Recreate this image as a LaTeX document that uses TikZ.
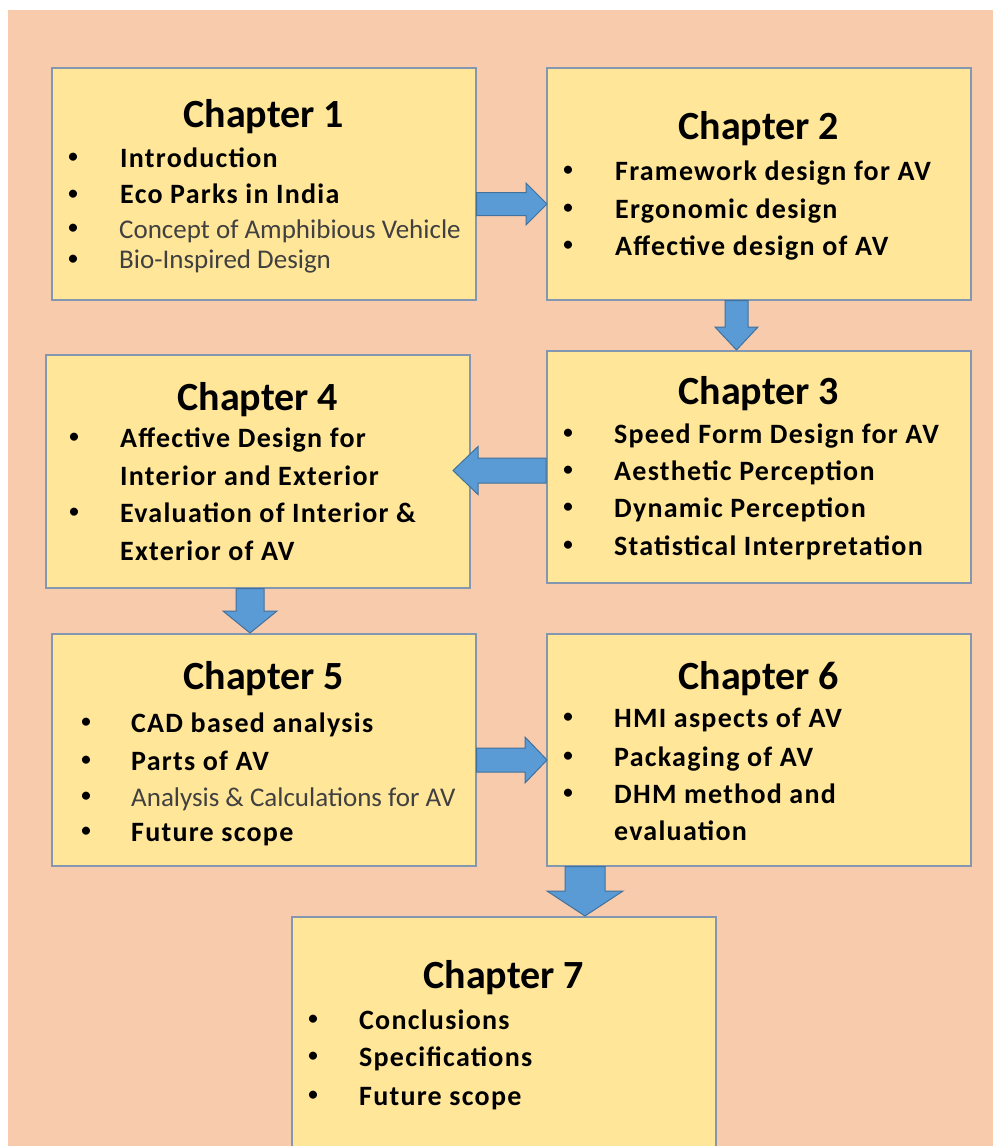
\documentclass[tikz,border=0pt]{standalone}
\usepackage{fontspec}
\setmainfont{Carlito}
\newfontfamily\bfam[LetterSpace=4.5]{Carlito}
\newfontfamily\rfam{Carlito}
\usetikzlibrary{calc}
\definecolor{bgpeach}{HTML}{F8CBAD}
\definecolor{boxfill}{HTML}{FFE699}
\definecolor{boxline}{HTML}{8497B0}
\definecolor{arrowfill}{HTML}{5B9BD5}
\definecolor{arrowline}{HTML}{41719C}
\definecolor{lighttext}{HTML}{404040}
\newcommand{\titlefont}{\rfam\bfseries\fontsize{40}{42}\selectfont}
\newcommand{\itemfont}{\bfam\bfseries\fontsize{28}{30}\selectfont}
\newcommand{\lightfont}{\rfam\fontsize{27}{29}\selectfont}
\newcommand{\bulfont}{\rfam\bfseries\fontsize{19}{20}\selectfont}
\newcommand{\blockarrow}[5]{%
  \coordinate (hb) at ($(#2)!#5!(#1)$);
  \filldraw[blockarr] ($(#1)!#3!90:(#2)$) -- ($(hb)!#3!-90:(#1)$) -- ($(hb)!#4!-90:(#1)$) -- (#2)
    -- ($(hb)!#4!90:(#1)$) -- ($(hb)!#3!90:(#1)$) -- ($(#1)!#3!-90:(#2)$) -- cycle;}
\tikzset{
  box/.style={draw=boxline, line width=1.5pt, fill=boxfill, rectangle, anchor=north west,
    inner sep=0pt, minimum width=424pt, minimum height=232pt},
  title/.style={anchor=base, inner sep=0pt, font=\titlefont},
  item/.style={anchor=base west, inner sep=0pt, font=\itemfont},
  itemlight/.style={anchor=base west, inner sep=0pt, font=\lightfont, text=lighttext},
  bul/.style={anchor=center, inner sep=0pt, font=\bulfont},
  blockarr/.style={fill=arrowfill, draw=arrowline, line width=1pt}
}
\begin{document}
\begin{tikzpicture}[x=1pt, y=-1pt]
\useasboundingbox (0,0) rectangle (993,1146);
\fill[white] (0,0) rectangle (993,1146);
\fill[bgpeach] (8,10) rectangle (993,1146);
\begin{scope}
\clip (0,0) rectangle (993,1146);
% boxes
\node[box] (ch1) at (51,67) {};
\node[box] (ch2) at (546,67) {};
\node[box] (ch3) at (546,350) {};
\node[box, minimum height=233pt] (ch4) at (45,354) {};
\node[box] (ch5) at (51,633) {};
\node[box] (ch6) at (546,633) {};
\node[box, minimum height=260pt] (ch7) at (291,916) {};
\end{scope}
% Chapter 1
\node[title] (t1) at (ch1.north |- 0,127) {Chapter 1};
\node[bul] (b11) at (73,158) {•};
\node[item] (i11) at (120,167) {Introduction};
\node[bul] (b12) at (73,195) {•};
\node[item] (i12) at (120,203) {Eco Parks in India};
\node[bul] (b13) at (73,229) {•};
\node[itemlight] (i13) at (119,238) {Concept of Amphibious Vehicle};
\node[bul] (b14) at (73,260) {•};
\node[itemlight] (i14) at (119,268) {Bio-Inspired Design};
% Chapter 2
\node[title] (t2) at (ch2.north |- 0,139) {Chapter 2};
\node[bul] (b21) at (568,171) {•};
\node[item] (i21) at (615,180) {Framework design for AV};
\node[bul] (b22) at (568,209) {•};
\node[item] (i22) at (615,218) {Ergonomic design};
\node[bul] (b23) at (568,246) {•};
\node[item] (i23) at (615,255) {Affective design of AV};
% Chapter 3
\node[title] (t3) at (ch3.north |- 0,404) {Chapter 3};
\node[bul] (b31) at (568,434) {•};
\node[item] (i31) at (614,443) {Speed Form Design for AV};
\node[bul] (b32) at (568,471) {•};
\node[item] (i32) at (614,480) {Aesthetic Perception};
\node[bul] (b33) at (568,508) {•};
\node[item] (i33) at (614,517) {Dynamic Perception};
\node[bul] (b34) at (568,546) {•};
\node[item] (i34) at (614,555) {Statistical Interpretation};
% Chapter 4
\node[title] (t4) at (ch4.north |- 0,410) {Chapter 4};
\node[bul] (b41) at (74,438) {•};
\node[item] (i41) at (120,447) {Affective Design for};
\node[item] (i42) at (120,485) {Interior and Exterior};
\node[bul] (b43) at (74,513) {•};
\node[item] (i43) at (120,522) {Evaluation of Interior \&};
\node[item] (i44) at (120,560) {Exterior of AV};
% Chapter 5
\node[title] (t5) at (ch5.north |- 0,689) {Chapter 5};
\node[bul] (b51) at (86,723) {•};
\node[item] (i51) at (131,732) {CAD based analysis};
\node[bul] (b52) at (86,761) {•};
\node[item] (i52) at (131,770) {Parts of AV};
\node[bul] (b53) at (86,797) {•};
\node[itemlight] (i53) at (131,806) {Analysis \& Calculations for AV};
\node[bul] (b54) at (86,832) {•};
\node[item] (i54) at (131,841) {Future scope};
% Chapter 6
\node[title] (t6) at (ch6.north |- 0,689) {Chapter 6};
\node[bul] (b61) at (568,718) {•};
\node[item] (i61) at (614,727) {HMI aspects of AV};
\node[bul] (b62) at (568,757) {•};
\node[item] (i62) at (614,766) {Packaging of AV};
\node[bul] (b63) at (568,794) {•};
\node[item] (i63) at (614,803) {DHM method and};
\node[item] (i64) at (614,840) {evaluation};
% Chapter 7
\node[title] (t7) at (ch7.north |- 0,988) {Chapter 7};
\node[bul] (b71) at (313,1020) {•};
\node[item] (i71) at (359,1029) {Conclusions};
\node[bul] (b72) at (313,1057) {•};
\node[item] (i72) at (359,1066) {Specifications};
\node[bul] (b73) at (313,1096) {•};
\node[item] (i73) at (359,1105) {Future scope};
% arrows
\coordinate (a12s) at (ch1.east |- 0,204);
\coordinate (a12e) at ($(ch2.west |- 0,204)+(1,0)$);
\blockarrow{a12s}{a12e}{11.5pt}{21pt}{21pt}
\coordinate (a23s) at (ch2.south -| 736.5,0);
\coordinate (a23e) at (ch3.north -| 736.5,0);
\blockarrow{a23s}{a23e}{11.5pt}{21.5pt}{23pt}
\coordinate (a34s) at (ch3.west |- 0,470.5);
\coordinate (a34e) at (453,470.5);
\blockarrow{a34s}{a34e}{12.5pt}{24pt}{25pt}
\coordinate (a45s) at (ch4.south -| 250,0);
\coordinate (a45e) at (ch5.north -| 250,0);
\blockarrow{a45s}{a45e}{14pt}{27pt}{22pt}
\coordinate (a56s) at (ch5.east |- 0,760);
\coordinate (a56e) at ($(ch6.west |- 0,760)+(1,0)$);
\blockarrow{a56s}{a56e}{12pt}{23pt}{22pt}
\coordinate (a67s) at (ch6.south -| 585,0);
\coordinate (a67e) at (ch7.north -| 585,0);
\blockarrow{a67s}{a67e}{20pt}{38pt}{25pt}
\end{tikzpicture}
\end{document}
